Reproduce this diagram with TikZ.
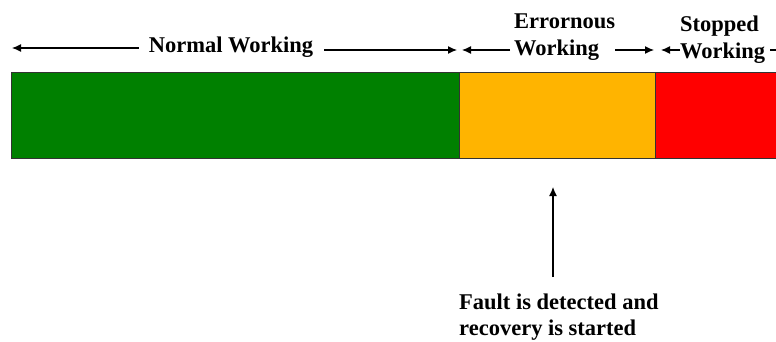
\documentclass[tikz,border=0pt]{standalone}
\usepackage{fontspec}
\setmainfont{Liberation Serif}
\usetikzlibrary{arrows.meta}
\usetikzlibrary{positioning}
\definecolor{wgreen}{RGB}{0,128,0}
\definecolor{worange}{RGB}{255,180,0}
\definecolor{wred}{RGB}{255,0,0}

\tikzset{
  phase/.style={draw=black!80, line width=1pt, minimum height=85pt, inner sep=0pt, outer sep=0pt, anchor=north west},
  lbl/.style={font=\fontsize{22.5}{27}\selectfont\bfseries, align=left, inner sep=0pt},
  span/.style={line width=1.2pt, -{Latex[length=9pt,width=8pt]}},
}

\begin{document}
\begin{tikzpicture}[x=1pt, y=-1pt]
      \useasboundingbox (0, 0) rectangle (776, 342);

      \node [phase, fill=wgreen, minimum width=448pt] (normal) at (11, 73) {};
      \node [phase, fill=worange, minimum width=196pt] (error) at (normal.north east) {};
      \node [phase, fill=wred, minimum width=135pt] (stopped) at (error.north east) {};

      \node [lbl] (normtxt) at (231, 47) {Normal Working};
      \node [lbl, anchor=west] (errtxt) at (514, 37) {Errornous\\Working};
      \node [lbl, anchor=west] (stoptxt) at (680, 40) {Stopped\\Working};

      \coordinate (b0) at (12, 48);
      \coordinate (b1) at (459, 50);
      \coordinate (b2) at (655, 50);
      \coordinate (b3) at (788, 50);

      \draw [span, shorten <=10pt] (normtxt.west |- b0) -- (b0);
      \draw [span, shorten <=11pt, shorten >=2pt] (normtxt.east |- b1) -- (b1);
      \draw [span, shorten <=4pt, shorten >=3pt] (errtxt.west |- b1) -- (b1);
      \draw [span, shorten >=1pt] (errtxt.east |- b2) -- (b2);
      \draw [span, shorten >=6pt] (stoptxt.west |- b2) -- (b2);
      \draw [span, shorten <=5pt] (stoptxt.east |- b3) -- (b3);

      \node [lbl, anchor=north west, font=\fontsize{22.5}{26}\selectfont\bfseries] (fault) at (459, 294) {Fault is detected and\\recovery is started};

      \coordinate (detect) at (553, 187);
      \draw [span, shorten <=17pt] (detect |- fault.north) -- (detect);
    \end{tikzpicture}
\end{document}
